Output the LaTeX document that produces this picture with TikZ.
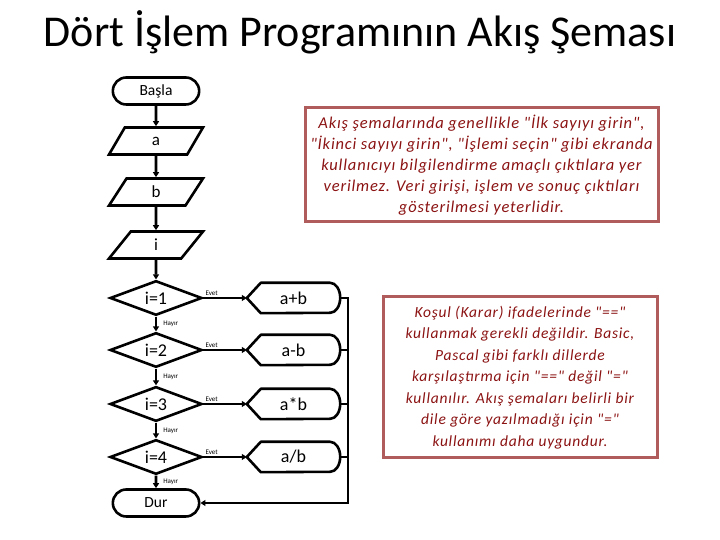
\documentclass[tikz,border=0pt]{standalone}
\usepackage{fontspec}
\setmainfont{Carlito}[Ligatures=TeXOff]
\usetikzlibrary{shapes.geometric,shapes.misc,arrows.meta}
\definecolor{noteframe}{HTML}{B05C5C}
\definecolor{notetext}{HTML}{8B1212}
\begin{document}
\begin{tikzpicture}[x=1pt,y=1pt,
  flow/.style={line width=2.6pt},
  flowarrow/.style={flow,-{Triangle[length=5pt,width=6pt]}},
  terminal/.style={rounded rectangle,draw,flow,minimum width=93pt,minimum height=27pt,font=\fontsize{15.5}{18}\selectfont},
  inout/.style={trapezium,trapezium left angle=76,trapezium right angle=104,trapezium stretches=true,draw,flow,minimum width=94pt,minimum height=27pt,font=\fontsize{17}{19}\selectfont},
  decision/.style={diamond,draw,flow,minimum width=92pt,minimum height=33pt,inner sep=0pt,font=\fontsize{18}{20}\selectfont},
  result/.style={minimum width=93pt,minimum height=30pt,font=\fontsize{18}{20}\selectfont},
  tag/.style={font=\fontsize{7}{8}\selectfont,inner sep=1pt},
  note/.style={draw=noteframe,line width=3pt,text=notetext,align=center}]
\useasboundingbox (0,0) rectangle (720,540);

\node[anchor=base,font=\fontsize{44}{50}\selectfont] (title) at (360,493) {Dört İşlem Programının Akış Şeması};

\node[terminal] (start) at (156,449) {Başla};
\node[inout] (ina) at (156,399) {a};
\node[inout] (inb) at (156,348) {b};
\node[inout] (ini) at (156,295) {i};
\node[decision] (d1) at (156,242) {i=1};
\node[decision] (d2) at (156,190) {i=2};
\node[decision] (d3) at (156,136) {i=3};
\node[decision] (d4) at (156,83) {i=4};
\node[terminal] (stop) at (156,37) {Dur};

\node[result] (r1) at (293.5,242) {a+b};
\node[result] (r2) at (293.5,190) {a-b};
\node[result] (r3) at (293.5,136) {a*b};
\node[result] (r4) at (293.5,83) {a/b};
\coordinate (bus) at (348,242);

% display shapes
\foreach \n in {r1,r2,r3,r4}
  \draw[flow,line join=round] (\n.west) -- ([xshift=14pt]\n.north west) -- ([xshift=-10pt]\n.north east)
    arc[start angle=90,end angle=-90,x radius=10pt,y radius=15pt] -- ([xshift=14pt]\n.south west) -- cycle;

\draw[flowarrow] (start) -- (ina);
\draw[flowarrow] (ina) -- (inb);
\draw[flowarrow] (inb) -- (ini);
\draw[flowarrow] (ini) -- (d1);
\foreach \a/\b in {d1/d2,d2/d3,d3/d4,d4/stop}
  \draw[flowarrow] (\a) -- (\b) node[tag,midway,right,xshift=5pt] {Hayır};
\foreach \i in {1,...,4}
  \draw[flowarrow] (d\i) -- (r\i) node[tag,pos=0,above right] {Evet};
\foreach \i in {2,3,4}
  \draw[flow] (r\i.east) -- (r\i.east -| bus);
\draw[flowarrow] (r1.east) -- (bus) |- (stop);

\node[note,minimum width=353pt,minimum height=114pt,
      font=\itshape\fontsize{16.5}{21}\selectfont\addfontfeatures{LetterSpace=5}] (note1) at (481.5,375)
  {Akış şemalarında genellikle "İlk sayıyı girin",\\
   "İkinci sayıyı girin", "İşlemi seçin" gibi ekranda\\
   kullanıcıyı bilgilendirme amaçlı çıktılara yer\\
   verilmez. Veri girişi, işlem ve sonuç çıktıları\\
   gösterilmesi yeterlidir.};
\node[note,minimum width=274pt,minimum height=161pt,
      font=\itshape\fontsize{15.5}{21.5}\selectfont\addfontfeatures{LetterSpace=5}] (note2) at (520,162.5)
  {Koşul (Karar) ifadelerinde "=="\\
   kullanmak gerekli değildir. Basic,\\
   Pascal gibi farklı dillerde\\
   karşılaştırma için "==" değil "="\\
   kullanılır. Akış şemaları belirli bir\\
   dile göre yazılmadığı için "="\\
   kullanımı daha uygundur.};
\end{tikzpicture}
\end{document}
